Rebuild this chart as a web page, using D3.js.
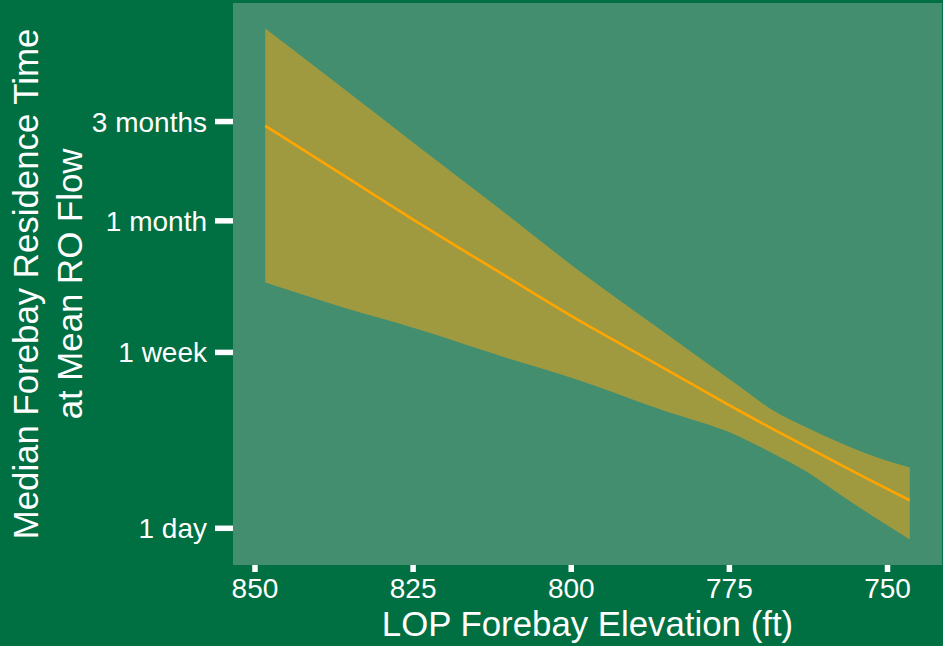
<!DOCTYPE html>
<html>
<head>
<meta charset="utf-8">
<script src="https://cdn.jsdelivr.net/npm/d3@7"></script>
<style>
  html, body { margin: 0; padding: 0; background: #006F41; }
  svg { display: block; }
  text { font-family: "Liberation Sans", Arial, Helvetica, sans-serif; fill: #ffffff; }
</style>
</head>
<body>
<svg id="chart" width="943" height="646"></svg>
<script>
// Forebay elevation (ft) at which the model was evaluated
const elevation = [848.3, 836.6, 824.0, 811.3, 798.7, 786.0, 773.3, 768.1, 762.7, 757.5, 752.3, 746.4];
// Median residence time (days) and its confidence band
const fitDays   = [85.3, 50.9, 29.1, 16.9, 9.91, 6.02, 3.64, 2.99, 2.45, 2.02, 1.67, 1.355];
const upperDays = [250.4, 133.8, 67.6, 34.2, 17.2, 9.04, 4.77, 3.68, 3.03, 2.57, 2.22, 1.95];
const lowerDays = [15.1, 11.6, 8.97, 6.72, 5.12, 3.72, 2.74, 2.28, 1.86, 1.45, 1.14, 0.879];

// Axis ticks
const xTicks = [850, 825, 800, 775, 750];
const yTickDays = [1, 7, 30, 90];
const yTickLabels = ["1 day", "1 week", "1 month", "3 months"];

const rows = elevation.map((e, i) => ({ e, fit: fitDays[i], lo: lowerDays[i], hi: upperDays[i] }));

const svg = d3.select("#chart");
const panel = { left: 233, right: 942, top: 3, bottom: 565 };

// 5% expansion on each side, like ggplot's default continuous scale padding
const [eMin, eMax] = d3.extent(elevation);
const ePad = (eMax - eMin) * 0.05;
const x = d3.scaleLinear()
  .domain([eMax + ePad, eMin - ePad])
  .range([panel.left, panel.right]);

const lMin = Math.log10(d3.min(lowerDays));
const lMax = Math.log10(d3.max(upperDays));
const lPad = (lMax - lMin) * 0.05;
const y = d3.scaleLog()
  .domain([Math.pow(10, lMin - lPad), Math.pow(10, lMax + lPad)])
  .range([panel.bottom, panel.top]);

// Panel background
svg.append("rect")
  .attr("x", panel.left).attr("y", panel.top)
  .attr("width", panel.right - panel.left)
  .attr("height", panel.bottom - panel.top)
  .attr("fill", "#428E6F");

// Confidence ribbon
const band = d3.area()
  .x(d => x(d.e))
  .y0(d => y(d.lo))
  .y1(d => y(d.hi))
  .curve(d3.curveMonotoneX);
svg.append("path")
  .datum(rows)
  .attr("d", band)
  .attr("fill", "#9F9A40");

// Fitted line
const fitLine = d3.line()
  .x(d => x(d.e))
  .y(d => y(d.fit))
  .curve(d3.curveMonotoneX);
svg.append("path")
  .datum(rows)
  .attr("d", fitLine)
  .attr("fill", "none")
  .attr("stroke", "#FFA500")
  .attr("stroke-width", 2.6);

// Y axis
const yAxis = svg.append("g")
  .attr("transform", `translate(${panel.left},0)`)
  .call(d3.axisLeft(y)
    .tickValues(yTickDays)
    .tickFormat((d, i) => yTickLabels[i])
    .tickSize(18)
    .tickPadding(8));
yAxis.select(".domain").remove();
yAxis.selectAll(".tick line").attr("stroke", "#ffffff").attr("stroke-width", 5.5);
yAxis.selectAll(".tick text")
  .attr("fill", "#ffffff")
  .style("font-size", "28px")
  .attr("dy", "0.36em");

// X axis
const xAxis = svg.append("g")
  .attr("transform", `translate(0,${panel.bottom})`)
  .call(d3.axisBottom(x)
    .tickValues(xTicks)
    .tickFormat(d3.format("d"))
    .tickSize(7)
    .tickPadding(6));
xAxis.select(".domain").remove();
xAxis.selectAll(".tick line").attr("stroke", "#ffffff").attr("stroke-width", 5.5);
xAxis.selectAll(".tick text")
  .attr("fill", "#ffffff")
  .style("font-size", "28px");

// Axis titles
svg.append("text")
  .attr("x", (panel.left + panel.right) / 2)
  .attr("y", 636)
  .attr("text-anchor", "middle")
  .style("font-size", "34.8px")
  .text("LOP Forebay Elevation (ft)");

const yTitle = svg.append("text")
  .attr("transform", `translate(0,${(panel.top + panel.bottom) / 2}) rotate(-90)`)
  .attr("text-anchor", "middle")
  .style("font-size", "34.8px");
yTitle.append("tspan").attr("x", 0).attr("y", 38).text("Median Forebay Residence Time");
yTitle.append("tspan").attr("x", 0).attr("y", 82).text("at Mean RO Flow");
</script>
</body>
</html>
